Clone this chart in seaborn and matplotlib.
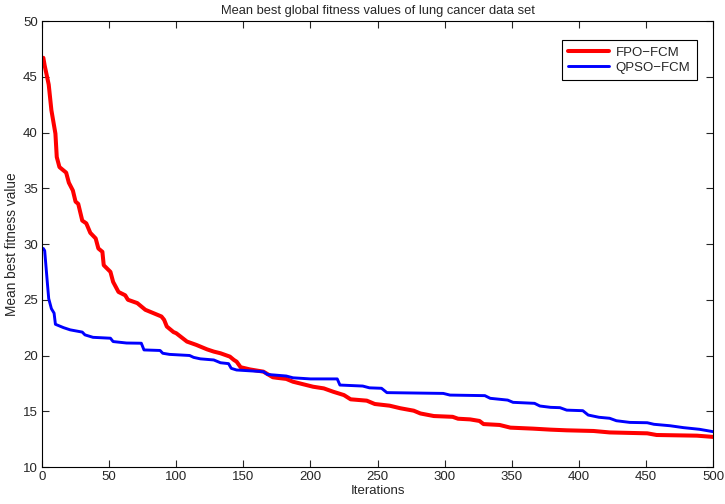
import numpy as np
import pandas as pd
import matplotlib
matplotlib.use("Agg")
import matplotlib.pyplot as plt
import seaborn as sns

title = "Mean best global fitness values of lung cancer data set"
xlabel = "Iterations"
ylabel = "Mean best fitness value"
series_names = ["FPO\u2212FCM", "QPSO\u2212FCM"]

red_iter = [1, 2, 5, 7, 10, 11, 13, 18, 20, 23, 25, 27, 30, 33, 36, 40, 42, 45, 46, 51,
            53, 57, 62, 64, 71, 77, 83, 89, 91, 93, 98, 100, 108, 115, 123, 128, 133, 140, 143, 145,
            148, 155, 165, 172, 175, 182, 187, 197, 202, 210, 217, 225, 230, 242, 248, 259, 267, 277, 282, 292,
            306, 310, 319, 326, 329, 341, 349, 366, 379, 391, 411, 423, 451, 458, 488, 500]
red_val = [46.7, 46.0, 44.3, 42.0, 39.9, 37.8, 36.9, 36.4, 35.5, 34.8, 33.8, 33.6, 32.1, 31.85, 31.0, 30.5, 29.6, 29.3, 28.1, 27.5,
           26.6, 25.7, 25.4, 25.0, 24.7, 24.1, 23.8, 23.5, 23.2, 22.6, 22.1, 22.0, 21.25, 20.95, 20.55, 20.35, 20.2, 19.9, 19.6, 19.45,
           18.95, 18.75, 18.55, 18.05, 18.0, 17.9, 17.65, 17.35, 17.2, 17.05, 16.75, 16.45, 16.07, 15.95, 15.65, 15.5, 15.27, 15.05, 14.8, 14.57,
           14.5, 14.33, 14.27, 14.13, 13.85, 13.77, 13.53, 13.44, 13.35, 13.29, 13.23, 13.1, 13.02, 12.87, 12.81, 12.7]

blue_iter = [1, 2, 4, 5, 7, 9, 10, 16, 21, 30, 32, 38, 51, 53, 63, 74, 76, 88, 90, 95,
             110, 113, 118, 128, 133, 139, 141, 145, 165, 168, 182, 187, 200, 220, 222, 239, 244, 253, 257, 299,
             304, 330, 334, 347, 351, 367, 371, 379, 386, 391, 403, 407, 415, 423, 428, 438, 451, 456, 468, 478,
             490, 500]
blue_val = [29.6, 29.4, 26.5, 25.1, 24.2, 23.8, 22.8, 22.5, 22.3, 22.1, 21.85, 21.63, 21.55, 21.25, 21.12, 21.1, 20.5, 20.45, 20.2, 20.1,
            20.0, 19.83, 19.7, 19.6, 19.35, 19.27, 18.85, 18.7, 18.55, 18.3, 18.16, 18.0, 17.9, 17.9, 17.35, 17.26, 17.1, 17.06, 16.67, 16.6,
            16.45, 16.4, 16.16, 16.0, 15.8, 15.71, 15.47, 15.35, 15.32, 15.1, 15.05, 14.66, 14.46, 14.37, 14.15, 14.0, 13.97, 13.83, 13.7, 13.53,
            13.38, 13.17]

xticks = [0, 50, 100, 150, 200, 250, 300, 350, 400, 450, 500]
yticks = [10, 15, 20, 25, 30, 35, 40, 45, 50]

df = pd.concat([
    pd.DataFrame({"iter": red_iter, "val": red_val, "alg": series_names[0]}),
    pd.DataFrame({"iter": blue_iter, "val": blue_val, "alg": series_names[1]}),
])

sns.set_style("ticks")
plt.rcParams["font.family"] = ["Liberation Sans", "DejaVu Sans"]

fig = plt.figure(figsize=(7.25, 5.04), dpi=100)
ax = fig.add_axes([42/725, 37/504, 671/725, 446/504])

red_lw, blue_lw = 2.9, 2.1
sns.lineplot(data=df, x="iter", y="val", hue="alg", sort=False,
             palette={series_names[0]: "#ff0000", series_names[1]: "#0000ff"},
             ax=ax, estimator=None)
lines = ax.get_lines()
lines[0].set_linewidth(red_lw)
lines[1].set_linewidth(blue_lw)
for ln in lines[:2]:
    ln.set_solid_joinstyle("round")

ax.set_xlim(0, 500)
ax.set_ylim(10, 50)
ax.set_xticks(xticks)
ax.set_yticks(yticks)
ax.tick_params(direction="in", length=5, width=0.8, labelsize=9.5, top=True, right=True, pad=3)
for s in ax.spines.values():
    s.set_visible(True)
    s.set_linewidth(0.8)
    s.set_color("black")
ax.set_title(title, fontsize=9.3, pad=5)
ax.set_xlabel(xlabel, fontsize=9.5, labelpad=1)
ax.set_ylabel(ylabel, fontsize=9.8, labelpad=3)

leg = ax.legend(loc="upper right", bbox_to_anchor=(655/671, 427/446), borderaxespad=0,
                fontsize=9.5, frameon=True, fancybox=False, edgecolor="black", framealpha=1,
                handlelength=3.1, borderpad=0.5, labelspacing=0.2, handletextpad=0.5)
leg.get_frame().set_linewidth(0.8)
for h, lw in zip(leg.get_lines(), [red_lw, blue_lw]):
    h.set_linewidth(lw)

fig.savefig("out.png", dpi=100)
